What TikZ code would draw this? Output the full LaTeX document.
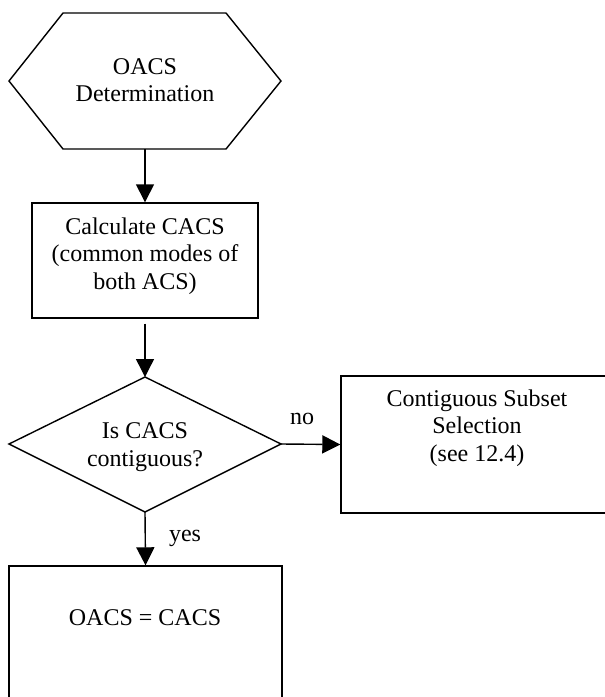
\documentclass[tikz,border=0pt]{standalone}
\usepackage{fontspec}
\setmainfont{Liberation Serif}
\usetikzlibrary{arrows.meta}
\begin{document}
\begin{tikzpicture}[x=0.5pt,y=-0.5pt,
  line width=0.7pt,
  arr/.style={-{Triangle[length=9pt,width=9pt]}},
  txt/.style={font=\fontsize{12}{13.8}\selectfont, align=center, inner sep=0pt},
  box/.style={draw, rectangle, inner sep=0pt}]
\useasboundingbox (0,0) rectangle (605,697);
\clip (0,0) rectangle (605,697);
% start hexagon
\draw (9,81) -- (63,13) -- (226,13) -- (281,81) -- (226,149) -- (63,149) -- cycle;
\coordinate (hexbot) at (145,149);
\node[txt] (t1) at (145,80) {OACS\\Determination};
% calculate box
\node[box, minimum width=113pt, minimum height=57.5pt] (calc) at (145,260.5) {};
\node[txt] (t2) at (145,256) {Calculate CACS\\(common modes of\\both ACS)};
% decision diamond
\draw (145,377) -- (281,444) -- (145,512) -- (9,444) -- cycle;
\coordinate (diatop) at (145,377);
\coordinate (diaright) at (281,444);
\coordinate (diabot) at (145,512);
\node[txt] (t3) at (145,447) {Is CACS\\contiguous?};
% contiguous subset box
\node[box, minimum width=136.5pt, minimum height=68.5pt] (cont) at (477.5,444.5) {};
\node[txt] (t4) at (477,428) {Contiguous Subset\\Selection\\(see 12.4)};
% final box
\node[box, minimum width=136.5pt, minimum height=80pt] (final) at (145.5,646) {};
\node[txt] (t5) at (145,618) {OACS = CACS};
% connectors
\draw[arr] (hexbot) -- (calc.north);
\draw[arr] ([yshift=-2.5pt]calc.south) -- (diatop);
\draw[arr] (diaright) -- (cont.west -| cont.west);
\draw[arr] (diabot) -- (final.north);
\node[txt] (no) at (302,419) {no};
\node[txt] (yes) at (185,538) {yes};
\end{tikzpicture}
\end{document}
